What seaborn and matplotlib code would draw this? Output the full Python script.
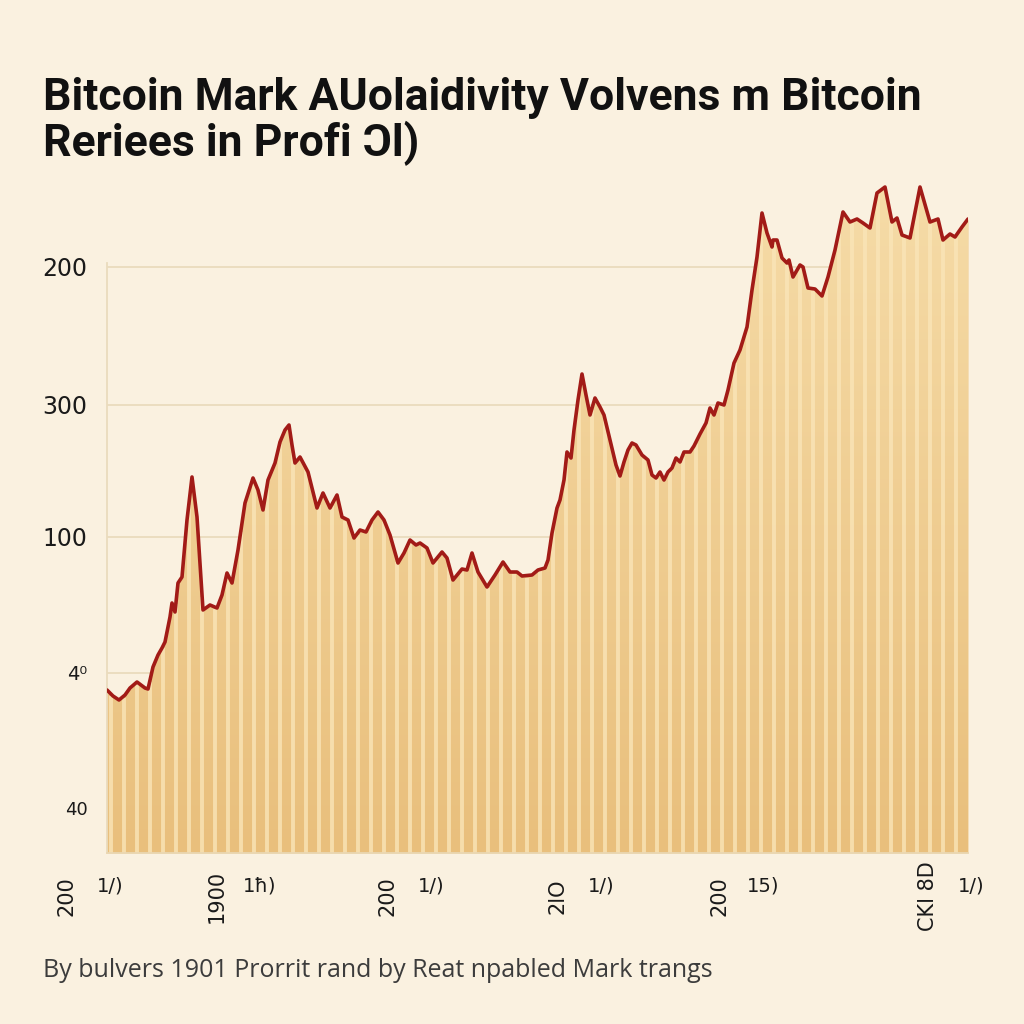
import numpy as np
import matplotlib
matplotlib.use("Agg")
import matplotlib.pyplot as plt
import seaborn as sns

# series (x = step along the axis, y = level above the baseline)
days = [0, 6, 12, 18, 23, 30, 38, 41, 46, 51, 55, 58, 63, 65, 68, 71, 75, 80, 85, 90,
        96, 103, 110, 115, 120, 125, 131, 138, 146, 151, 156, 161, 168, 173, 178, 182,
        185, 188, 193, 201, 210, 216, 223, 230, 235, 241, 247, 253, 259, 265, 271, 277,
        283, 291, 297, 303, 309, 313, 320, 326, 335, 340, 346, 355, 360, 365, 371, 380,
        388, 396, 403, 410, 415, 425, 431, 438, 441, 445, 450, 453, 457, 460, 464, 467,
        471, 475, 479, 483, 488, 493, 497, 503, 509, 513, 517, 521, 525, 529, 535, 541,
        545, 549, 553, 557, 561, 565, 569, 573, 577, 583, 587, 593, 599, 603, 607, 611,
        617, 621, 627, 633, 640, 645, 650, 655, 660, 665, 666, 670, 675, 680, 682, 686,
        693, 696, 701, 708, 715, 721, 728, 736, 743, 750, 756, 763, 770, 778, 785, 790,
        795, 803, 813, 823, 831, 836, 843, 848, 855, 861]
price = [163, 157, 153, 158, 165, 171, 165, 164, 186, 198, 205, 211, 236, 250, 241, 270,
         276, 333, 376, 336, 243, 248, 245, 258, 280, 270, 303, 350, 375, 363, 343, 373,
         390, 411, 423, 428, 408, 390, 396, 381, 345, 360, 345, 358, 336, 333, 315, 323,
         321, 333, 341, 333, 318, 290, 300, 313, 308, 310, 305, 290, 301, 295, 273, 284,
         283, 300, 281, 266, 278, 291, 281, 281, 277, 278, 283, 285, 293, 320, 345, 353,
         373, 401, 395, 423, 453, 479, 458, 438, 455, 446, 438, 413, 388, 377, 391, 403,
         410, 408, 398, 393, 378, 375, 381, 373, 381, 385, 395, 391, 401, 401, 407, 419,
         430, 445, 438, 450, 448, 463, 490, 503, 526, 563, 596, 640, 620, 606, 613, 613,
         595, 590, 593, 576, 588, 586, 565, 564, 557, 576, 603, 641, 631, 634, 630, 625,
         660, 666, 631, 635, 618, 615, 666, 631, 634, 613, 619, 616, 626, 634]

# axis labels (as printed, garbled text kept)
y_ticks = [45, 180, 316, 448, 586]
y_labels = ["40", "4\u2070", "100", "300", "200"]
y_label_sizes = [13, 14, 17, 17, 17]
x_ticks = [0, 150, 321, 491, 653, 861]
x_numbers = ["200", "1900", "200", "2lO", "200", "CKl 8D"]
x_parts = ["1/)", "1\u0127)", "1/)", "1/)", "15)", "1/)"]

title_1 = "Bitcoin Mark AUolaidivity Volvens m Bitcoin"
title_2 = "Reriees in Profi \u0186l)"
footnote = "By bulvers 1901 Prorrit rand by Reat npabled Mark trangs"

bg = "#FAF1E0"
grid_c = "#EADBBD"
line_c = "#A21B17"

sns.set_theme(style="white")
plt.rcParams["font.family"] = ["DejaVu Sans"]

fig = plt.figure(figsize=(10.24, 10.24), dpi=100, facecolor=bg)
ax = fig.add_axes([107 / 1024, 171 / 1024, 861 / 1024, 678 / 1024])
ax.set_facecolor(bg)

x = np.array(days, dtype=float)
y = np.array(price, dtype=float)

# filled area with a vertical gradient clipped to the curve
area = ax.fill_between(x, 0, y, color="#EFCB8E", linewidth=0, zorder=1)
grad = np.linspace(0, 1, 256).reshape(-1, 1)
cmap = matplotlib.colors.LinearSegmentedColormap.from_list("g", ["#E9BF7C", "#F6DCA8"])
img = ax.imshow(grad, extent=[0, 861, 0, 678], origin="lower", aspect="auto",
                cmap=cmap, zorder=1.5)
img.set_clip_path(area.get_paths()[0], transform=ax.transData)

# pale vertical stripes inside the fill
sx = np.arange(4, 861, 13.0)
ax.vlines(sx, 0, np.interp(sx, x, y) - 2, color="#FAE5B8", linewidth=2.8,
          alpha=0.8, zorder=2)

sns.lineplot(x=x, y=y, ax=ax, color=line_c, linewidth=2.6, zorder=3,
             solid_joinstyle="round", solid_capstyle="round")

ax.set_xlim(0, 861)
ax.set_ylim(0, 678)
ax.set_xlabel("")
ax.set_ylabel("")

ax.set_axisbelow(True)
ax.yaxis.grid(True, color=grid_c, linewidth=1.3)
ax.xaxis.grid(False)

for s in ["top", "right"]:
    ax.spines[s].set_visible(False)
ax.spines["left"].set_color(grid_c)
ax.spines["left"].set_linewidth(1.3)
ax.spines["left"].set_bounds(0, 590)
ax.spines["bottom"].set_color("#EAD7B2")
ax.spines["bottom"].set_linewidth(1.3)

ax.set_yticks(y_ticks)
ax.set_yticklabels(y_labels)
ax.tick_params(axis="y", length=9, width=1.3, color=grid_c, pad=5,
               labelcolor="#1a1a1a")
for lab, fs in zip(ax.get_yticklabels(), y_label_sizes):
    lab.set_fontsize(fs)

ax.set_xticks(x_ticks)
ax.set_xticklabels([])
ax.tick_params(axis="x", length=12, width=1.3, color="#E6D3AE")
for xt, num, part in zip(x_ticks, x_numbers, x_parts):
    ax.annotate(num, xy=(xt, 0), xycoords=("data", "axes fraction"),
                xytext=(-29, -31), textcoords="offset points", rotation=90,
                ha="center", va="center", fontsize=15, color="#1a1a1a")
    ax.annotate(part, xy=(xt, 0), xycoords=("data", "axes fraction"),
                xytext=(2, -24), textcoords="offset points",
                ha="center", va="center", fontsize=14, color="#1a1a1a")

fig.text(43 / 1024, 1 - 110 / 1024, title_1, fontsize=32, fontweight="bold",
         family=["Roboto", "DejaVu Sans"], color="#111111", va="baseline")
fig.text(43 / 1024, 1 - 156 / 1024, title_2, fontsize=32, fontweight="bold",
         family=["Roboto", "DejaVu Sans"], color="#111111", va="baseline")
fig.text(43 / 1024, 1 - 977 / 1024, footnote, fontsize=18,
         family=["Open Sans", "DejaVu Sans"], color="#3c3c3c", va="baseline")

fig.savefig("out.png", dpi=100, facecolor=bg)
